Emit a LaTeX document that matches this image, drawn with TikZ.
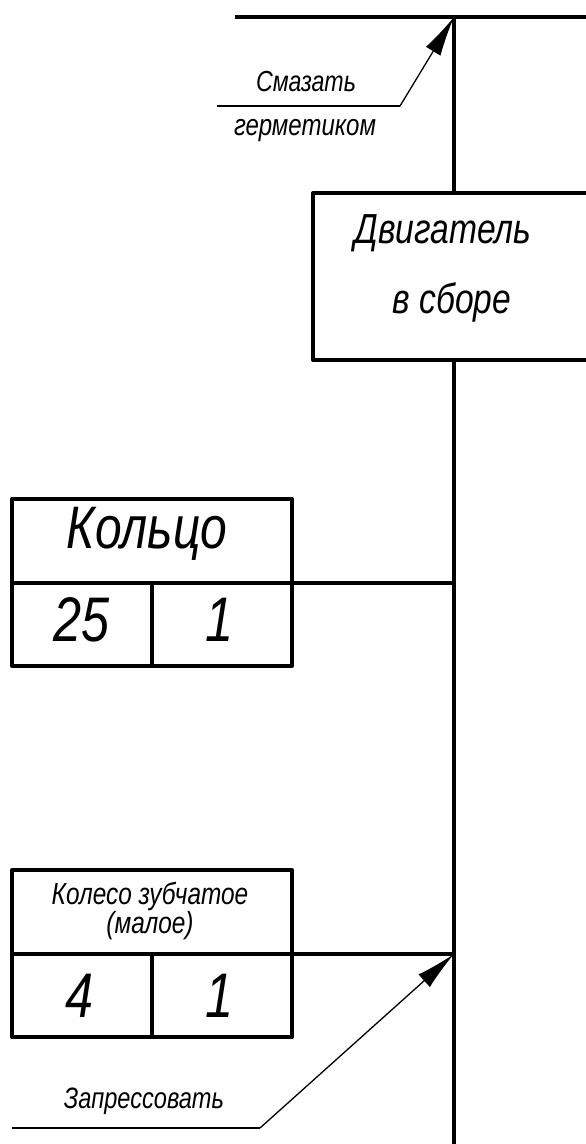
\documentclass[tikz,border=0pt]{standalone}
\usepackage{fontspec}
\setmainfont{Liberation Sans}[FakeStretch=0.8]
\usetikzlibrary{arrows.meta}
\begin{document}
\begin{tikzpicture}[x=1pt,y=-1pt,
  thickline/.style={line width=4pt},
  thinline/.style={line width=1.3pt},
  leader/.style={thinline,-{Latex[length=40pt,width=17pt]}},
  frame/.style={draw,line width=4pt,line join=round},
  txt/.style={inner sep=0pt,font=\itshape},
]
\useasboundingbox (0,0) rectangle (586,1144);
\clip (0,0) rectangle (586,1144);
% top line and main axis
\coordinate (topL) at (235,17);
\coordinate (topR) at (586,17);
\coordinate (J0) at (454,17);
\coordinate (Jend) at (454,1144);
\draw[thickline] (topL) -- (topR);
% motor box
\node[frame,minimum width=287pt,minimum height=167pt,inner sep=0pt] (motor) at (456.5,276.5) {};
\node[txt,font=\itshape\fontsize{42}{42}\selectfont] (m1) at (443,233) {Двигатель};
\node[txt,font=\itshape\fontsize{42}{42}\selectfont] (m2) at (452,302) {в сборе};
\draw[thickline] (J0) -- (motor.north -| J0);
\draw[thickline] (motor.south -| J0) -- (Jend);
% Кольцо table
\node[frame,minimum width=280pt,minimum height=167pt,inner sep=0pt] (ring) at (152,582.5) {};
\coordinate (ringMidL) at (12,583);
\coordinate (ringMidR) at (292,583);
\coordinate (ringDivT) at (152,583);
\coordinate (ringDivB) at (152,666);
\draw[thickline] (ringMidL) -- (ringMidR);
\draw[thickline] (ringDivT) -- (ringDivB);
\node[txt,font=\itshape\fontsize{60}{60}\selectfont] (ringName) at (147,534) {Кольцо};
\node[txt,font=\itshape\fontsize{63}{63}\selectfont] (ringA) at (82,620) {25};
\node[txt,font=\itshape\fontsize{63}{63}\selectfont] (ringB) at (220,620) {1};
\coordinate (J1) at (454,583);
\draw[thickline] (ringMidR) -- (J1);
% Колесо table
\node[frame,minimum width=280pt,minimum height=167pt,inner sep=0pt] (gear) at (152,953.5) {};
\coordinate (gearMidL) at (12,954);
\coordinate (gearMidR) at (292,954);
\coordinate (gearDivT) at (152,954);
\coordinate (gearDivB) at (152,1037);
\draw[thickline] (gearMidL) -- (gearMidR);
\draw[thickline] (gearDivT) -- (gearDivB);
\node[txt,font=\itshape\fontsize{30.5}{30.5}\selectfont] (gearName1) at (150,896) {Колесо зубчатое};
\node[txt,font=\itshape\fontsize{30.5}{30.5}\selectfont] (gearName2) at (150,926) {(малое)};
\node[txt,font=\itshape\fontsize{63}{63}\selectfont] (gearA) at (80,996) {4};
\node[txt,font=\itshape\fontsize{63}{63}\selectfont] (gearB) at (220,996) {1};
\coordinate (J2) at (454,954);
\draw[thickline] (gearMidR) -- (J2);
% leader 1
\coordinate (l1a) at (217,106);
\coordinate (l1b) at (400,106);
\draw[thinline] (l1a) -- (l1b);
\draw[leader] (l1b) -- (J0);
\node[txt,font=\itshape\fontsize{29}{29}\selectfont] (l1t1) at (306,82) {Смазать};
\node[txt,font=\itshape\fontsize{30}{30}\selectfont] (l1t2) at (305,131) {герметиком};
% leader 2
\coordinate (l2a) at (12,1128);
\coordinate (l2b) at (260,1128);
\draw[thinline] (l2a) -- (l2b);
\draw[leader] (l2b) -- (J2);
\node[txt,font=\itshape\fontsize{29.5}{29.5}\selectfont] (l2t) at (144,1101) {Запрессовать};
\end{tikzpicture}
\end{document}
